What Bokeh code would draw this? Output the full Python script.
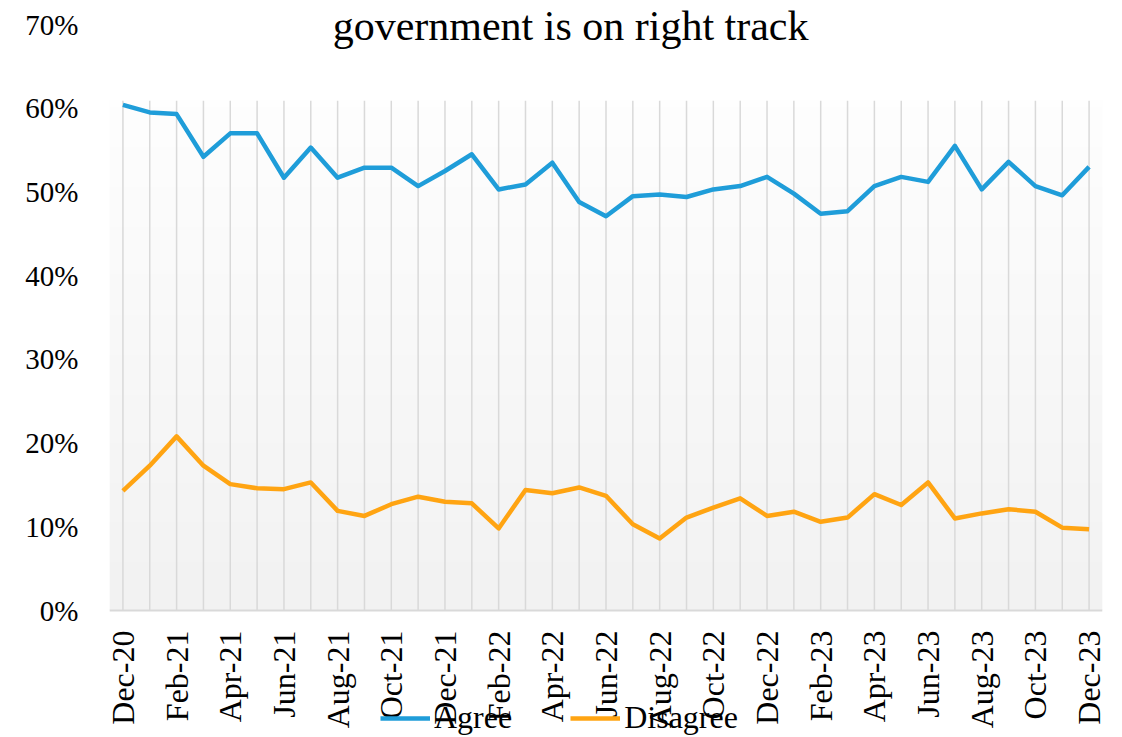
import math
import numpy as np
from bokeh.plotting import figure
from bokeh.models import (Range1d, FixedTicker, NumeralTickFormatter, Legend, LegendItem,
                          Label, ColumnDataSource)
from bokeh.embed import file_html
from bokeh.resources import INLINE

months = ["Dec-20", "Jan-21", "Feb-21", "Mar-21", "Apr-21", "May-21", "Jun-21", "Jul-21",
          "Aug-21", "Sep-21", "Oct-21", "Nov-21", "Dec-21", "Jan-22", "Feb-22", "Mar-22",
          "Apr-22", "May-22", "Jun-22", "Jul-22", "Aug-22", "Sep-22", "Oct-22", "Nov-22",
          "Dec-22", "Jan-23", "Feb-23", "Mar-23", "Apr-23", "May-23", "Jun-23", "Jul-23",
          "Aug-23", "Sep-23", "Oct-23", "Nov-23", "Dec-23"]

agree = [60.4, 59.5, 59.3, 54.2, 57.0, 57.0, 51.7, 55.3, 51.7, 52.9, 52.9, 50.7, 52.5,
         54.5, 50.3, 50.9, 53.5, 48.8, 47.1, 49.5, 49.7, 49.4, 50.3, 50.7, 51.8, 49.8,
         47.4, 47.7, 50.7, 51.8, 51.2, 55.5, 50.3, 53.6, 50.7, 49.6, 53.0]

disagree = [14.3, 17.3, 20.8, 17.3, 15.1, 14.6, 14.5, 15.3, 11.9, 11.3, 12.7, 13.6, 13.0,
            12.8, 9.8, 14.4, 14.0, 14.7, 13.7, 10.3, 8.6, 11.1, 12.3, 13.4, 11.3, 11.8,
            10.6, 11.1, 13.9, 12.6, 15.3, 11.0, 11.6, 12.1, 11.8, 9.9, 9.7]

y_ticks = [0, 0.1, 0.2, 0.3, 0.4, 0.5, 0.6, 0.7]
title_text = "government is on right track"
series_names = ["Agree", "Disagree"]
series_colors = ["#1f9dd9", "#ffa412"]

idx = list(range(len(months)))
src = ColumnDataSource(dict(x=idx, agree=[v / 100 for v in agree],
                            disagree=[v / 100 for v in disagree]))

FONT = "Liberation Serif"

# The frame spans the whole canvas height so the title and the legend (drawn
# over the chart as in the reference) are not clipped; the x axis sits at y = 0.
p = figure(width=1122, height=736, output_backend="svg", toolbar_location=None,
           x_range=Range1d(-0.5, len(months) - 0.5), y_range=Range1d(-0.1505, 0.7287),
           min_border_left=109, min_border_right=20, min_border_top=0, min_border_bottom=0)
p.outline_line_color = None
p.background_fill_color = "white"
p.border_fill_color = "white"
p.xgrid.grid_line_color = None
p.ygrid.grid_line_color = None

# plot-area gradient (Excel style) and vertical month gridlines
area_top = 0.609
n = 64
t = np.linspace(0, 1, n)[:, None]  # row 0 = bottom
top_c = np.array([254, 254, 254])
bot_c = np.array([242, 242, 242])
cols = (bot_c * (1 - t) + top_c * t).astype(np.uint32)
img = np.zeros((n, 1), dtype=np.uint32)
view = img.view(dtype=np.uint8).reshape((n, 1, 4))
view[:, 0, 0] = cols[:, 0]
view[:, 0, 1] = cols[:, 1]
view[:, 0, 2] = cols[:, 2]
view[:, 0, 3] = 255
p.image_rgba(image=[img], x=-0.5, y=0, dw=len(months), dh=area_top)
p.segment(x0=idx, y0=[0] * len(idx), x1=idx, y1=[area_top] * len(idx),
          line_color="#d9d9d9", line_width=1.5)

r1 = p.line("x", "agree", source=src, line_color=series_colors[0], line_width=4.5,
            line_join="round")
r2 = p.line("x", "disagree", source=src, line_color=series_colors[1], line_width=4.5,
            line_join="round")

# axes
p.yaxis.ticker = FixedTicker(ticks=y_ticks)
p.yaxis.formatter = NumeralTickFormatter(format="0%")
p.yaxis.axis_line_color = None
p.yaxis.major_tick_line_color = None
p.yaxis.major_tick_out = 0
p.yaxis.minor_tick_line_color = None
p.yaxis.minor_tick_out = 0
p.yaxis.major_label_text_font = FONT
p.yaxis.major_label_text_font_size = "29px"
p.yaxis.major_label_text_color = "black"
p.yaxis.major_label_standoff = 31

p.xaxis.fixed_location = 0
p.xaxis.ticker = FixedTicker(ticks=idx[::2])
p.xaxis.major_label_overrides = {i: months[i] for i in idx[::2]}
p.xaxis.major_label_orientation = math.pi / 2
p.xaxis.axis_line_color = "#d9d9d9"
p.xaxis.axis_line_width = 2
p.xaxis.major_tick_line_color = None
p.xaxis.major_tick_out = 0
p.xaxis.minor_tick_line_color = None
p.xaxis.minor_tick_out = 0
p.xaxis.major_label_text_font = FONT
p.xaxis.major_label_text_font_size = "32px"
p.xaxis.major_label_text_color = "black"
p.xaxis.major_label_standoff = 20

# title (sits over the top of the chart, as in the reference)
p.add_layout(Label(x=16.68, y=0.6988, text=title_text, text_align="center",
                   text_baseline="middle", text_font=FONT, text_font_size="42px",
                   text_color="black"))

legend = Legend(items=[LegendItem(label=series_names[0], renderers=[r1]),
                       LegendItem(label=series_names[1], renderers=[r2])],
                location=(271, 0), orientation="horizontal",
                label_text_font=FONT, label_text_font_size="32px", label_text_color="black",
                glyph_width=50, glyph_height=30, label_standoff=4, spacing=58,
                padding=0, margin=0, border_line_color=None, background_fill_alpha=0)
p.add_layout(legend)

open("out.html", "w").write(file_html(p, INLINE))
